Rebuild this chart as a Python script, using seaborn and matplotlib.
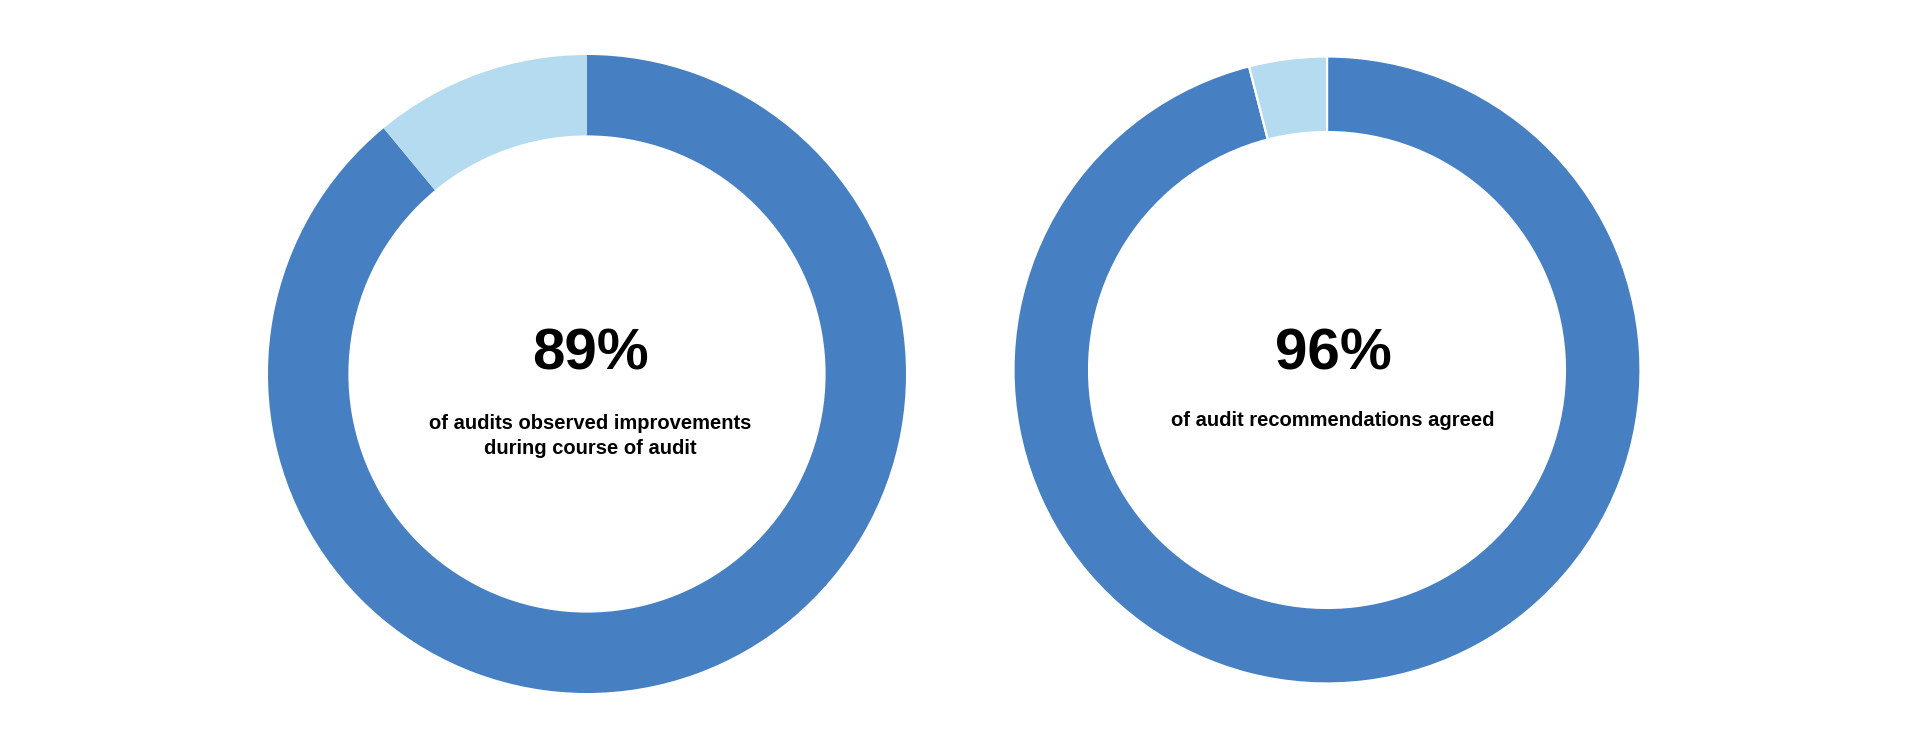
import matplotlib
matplotlib.use("Agg")
import matplotlib.pyplot as plt
import seaborn as sns

# chart values
labels = ["Yes", "No"]
improvements = [89, 11]
agreed = [96, 4]
big_labels = ["89%", "96%"]
captions = ["of audits observed improvements\nduring course of audit",
            "of audit recommendations agreed"]

sns.set_theme(style="white")
plt.rcParams["font.family"] = ["Liberation Sans", "DejaVu Sans"]

dark = "#4680C2"
light = "#B5DBF0"

W, H = 1915, 745
fig = plt.figure(figsize=(W / 100, H / 100), dpi=100)
fig.patch.set_facecolor("white")

# donut layout in pixels: centre x, centre y (from top), outer radius, ring width
layout = [
    (587, 374, 319, 0.252, None),
    (1327, 370, 313.5, 0.241, dict(edgecolor="white", linewidth=1.6)),
]
text_pos = [
    # (x, y of big number, y of caption)
    (590, 355, 436),
    (1333, 354, 420),
]

for vals, big, cap, (cx, cy, r, w, edge), (tx, ty1, ty2) in zip(
        [improvements, agreed], big_labels, captions, layout, text_pos):
    ax = fig.add_axes([(cx - r) / W, (H - cy - r) / H, 2 * r / W, 2 * r / H])
    wp = dict(width=w)
    if edge:
        wp.update(edge)
    else:
        wp.update(dict(edgecolor="none", linewidth=0))
    ax.pie(vals, colors=[dark, light], startangle=90, counterclock=False,
           radius=1, wedgeprops=wp)
    ax.set_xlim(-1, 1)
    ax.set_ylim(-1, 1)
    ax.set_aspect("equal")
    ax.axis("off")

    fig.text(tx / W, 1 - ty1 / H, big, ha="center", va="center",
             fontsize=42, fontweight="bold", color="black")
    fig.text(tx / W, 1 - ty2 / H, cap, ha="center", va="center",
             fontsize=14.5, fontweight="bold", color="black", linespacing=1.4)

fig.savefig("out.png", dpi=100, facecolor="white")
